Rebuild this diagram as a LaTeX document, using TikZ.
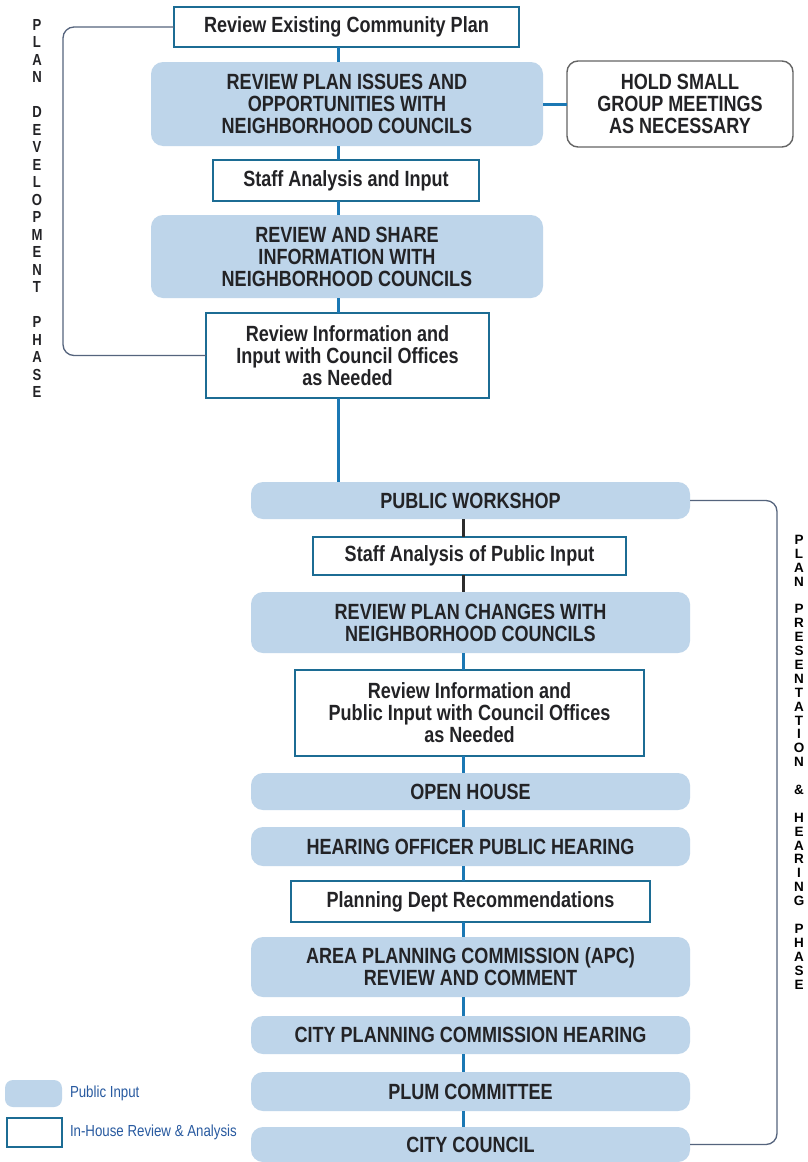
\documentclass[tikz,border=0pt]{standalone}
\usepackage{fontspec}
\setmainfont{Liberation Sans}
\newfontfamily\cn{Liberation Sans}[FakeStretch=0.82]
\newfontfamily\cnleg{Liberation Sans}[FakeStretch=0.83]
\definecolor{pubfill}{RGB}{190,213,234}
\definecolor{boxline}{RGB}{28,108,148}
\definecolor{conblue}{RGB}{27,120,180}
\definecolor{condark}{RGB}{45,45,45}
\definecolor{brack}{RGB}{85,100,125}
\definecolor{txt}{RGB}{35,35,38}
\definecolor{legtxt}{RGB}{40,90,160}
\definecolor{holdline}{RGB}{100,100,100}
\begin{document}
\begin{tikzpicture}[x=1pt,y=-1pt,
  every node/.style={inner sep=0pt, outer sep=0pt, text=txt},
  main/.style={font=\cn\bfseries\fontsize{22}{22}\selectfont, align=center},
  pub/.style={main, fill=pubfill, rounded corners=12pt},
  inhouse/.style={main, draw=boxline, line width=1.6pt, fill=white},
  hold/.style={main, draw=holdline, line width=1.4pt, rounded corners=11pt, fill=white},
  conn/.style={draw=conblue, line width=3pt},
  conndk/.style={draw=condark, line width=3pt},
  brk/.style={draw=brack, line width=1.3pt, rounded corners=11pt},
  lefttxt/.style={font=\cn\bfseries\fontsize{16}{17.5}\selectfont, align=center},
  righttxt/.style={font=\bfseries\fontsize{13.5}{13.9}\selectfont, align=center, text=black},
  legt/.style={font=\cnleg\fontsize{16}{16}\selectfont, text=legtxt}
]
\fill[white] (0,0) rectangle (807,1162);
\useasboundingbox (0,0) rectangle (807,1162);

\coordinate (ax1) at (338,0);
\coordinate (ax2) at (463,0);
\coordinate (lb) at (63,0);
\coordinate (rb) at (777,0);

% top column
\node[inhouse, minimum width=345pt, minimum height=40pt] (rev) at (346.5,27) {Review Existing Community Plan};
\node[pub, minimum width=392pt, minimum height=84pt] (issues) at (347,104) {REVIEW PLAN ISSUES AND\\OPPORTUNITIES WITH\\NEIGHBORHOOD COUNCILS};
\node[hold, minimum width=226pt, minimum height=86pt] (hold) at (680,104) {HOLD SMALL\\GROUP MEETINGS\\AS NECESSARY};
\node[inhouse, minimum width=266pt, minimum height=41pt] (staff1) at (346,180.5) {Staff Analysis and Input};
\node[pub, minimum width=392pt, minimum height=83pt] (share) at (347,256.5) {REVIEW AND SHARE\\INFORMATION WITH\\NEIGHBORHOOD COUNCILS};
\node[inhouse, minimum width=283pt, minimum height=85pt] (info1) at (347.5,355.5) {Review Information and\\Input with Council Offices\\as Needed};

% lower column
\node[pub, minimum width=439pt, minimum height=37pt] (pw) at (470.5,500.5) {PUBLIC WORKSHOP};
\node[inhouse, minimum width=313pt, minimum height=38pt] (staff2) at (469.5,556) {Staff Analysis of Public Input};
\node[pub, minimum width=439pt, minimum height=61pt] (changes) at (470.5,622.5) {REVIEW PLAN CHANGES WITH\\NEIGHBORHOOD COUNCILS};
\node[inhouse, minimum width=349pt, minimum height=86pt] (info2) at (469.5,713) {Review Information and\\Public Input with Council Offices\\as Needed};
\node[pub, minimum width=439pt, minimum height=37pt] (open) at (470.5,791.5) {OPEN HOUSE};
\node[pub, minimum width=439pt, minimum height=39pt] (hear) at (470.5,846.5) {HEARING OFFICER PUBLIC HEARING};
\node[inhouse, minimum width=359pt, minimum height=41pt] (rec) at (470.5,901.5) {Planning Dept Recommendations};
\node[pub, minimum width=439pt, minimum height=60pt] (apc) at (470.5,967) {AREA PLANNING COMMISSION (APC)\\REVIEW AND COMMENT};
\node[pub, minimum width=439pt, minimum height=38pt] (cpc) at (470.5,1035) {CITY PLANNING COMMISSION HEARING};
\node[pub, minimum width=439pt, minimum height=39pt] (plum) at (470.5,1091.5) {PLUM COMMITTEE};
\node[pub, minimum width=439pt, minimum height=35pt] (council) at (470.5,1144.5) {CITY COUNCIL};

% connectors
\draw[conn] (rev.south -| ax1) -- (issues.north -| ax1);
\draw[conn] (issues.south -| ax1) -- (staff1.north -| ax1);
\draw[conn] (staff1.south -| ax1) -- (share.north -| ax1);
\draw[conn] (share.south -| ax1) -- (info1.north -| ax1);
\draw[conn] (info1.south -| ax1) -- (pw.north -| ax1);
\draw[conn] (issues.east) -- (hold.west);
\draw[conndk] (pw.south -| ax2) -- (staff2.north -| ax2);
\draw[conndk] (staff2.south -| ax2) -- (changes.north -| ax2);
\draw[conn] (changes.south -| ax2) -- (info2.north -| ax2);
\draw[conn] (info2.south -| ax2) -- (open.north -| ax2);
\draw[conn] (open.south -| ax2) -- (hear.north -| ax2);
\draw[conn] (hear.south -| ax2) -- (rec.north -| ax2);
\draw[conn] (rec.south -| ax2) -- (apc.north -| ax2);
\draw[conn] (apc.south -| ax2) -- (cpc.north -| ax2);
\draw[conn] (cpc.south -| ax2) -- (plum.north -| ax2);
\draw[conn] (plum.south -| ax2) -- (council.north -| ax2);

% brackets
\draw[brk] (rev.west) -- (rev.west -| lb) -- (info1.west -| lb) -- (info1.west);
\draw[brk] (pw.east) -- (pw.east -| rb) -- (council.east -| rb) -- (council.east);

% phase labels
\node[lefttxt, anchor=north] (devphase) at (37,19) {P\\L\\A\\N\\[17.5pt]D\\E\\V\\E\\L\\O\\P\\M\\E\\N\\T\\[17.5pt]P\\H\\A\\S\\E};
\node[righttxt, anchor=north] (hearphase) at (799,535) {P\\L\\A\\N\\[13.9pt]P\\R\\E\\S\\E\\N\\T\\A\\T\\I\\O\\N\\[13.9pt]\&\\[13.9pt]H\\E\\A\\R\\I\\N\\G\\[13.9pt]P\\H\\A\\S\\E};

% legend
\node[fill=pubfill, rounded corners=8pt, minimum width=57pt, minimum height=27pt] (legpub) at (33.5,1093.5) {};
\node[draw=boxline, line width=1.5pt, minimum width=55pt, minimum height=29pt] (legin) at (34.5,1132.5) {};
\node[legt, anchor=west] (legpubtxt) at (70,1093) {Public Input};
\node[legt, anchor=west] (legintxt) at (70,1132) {In-House Review \& Analysis};
\end{tikzpicture}
\end{document}
